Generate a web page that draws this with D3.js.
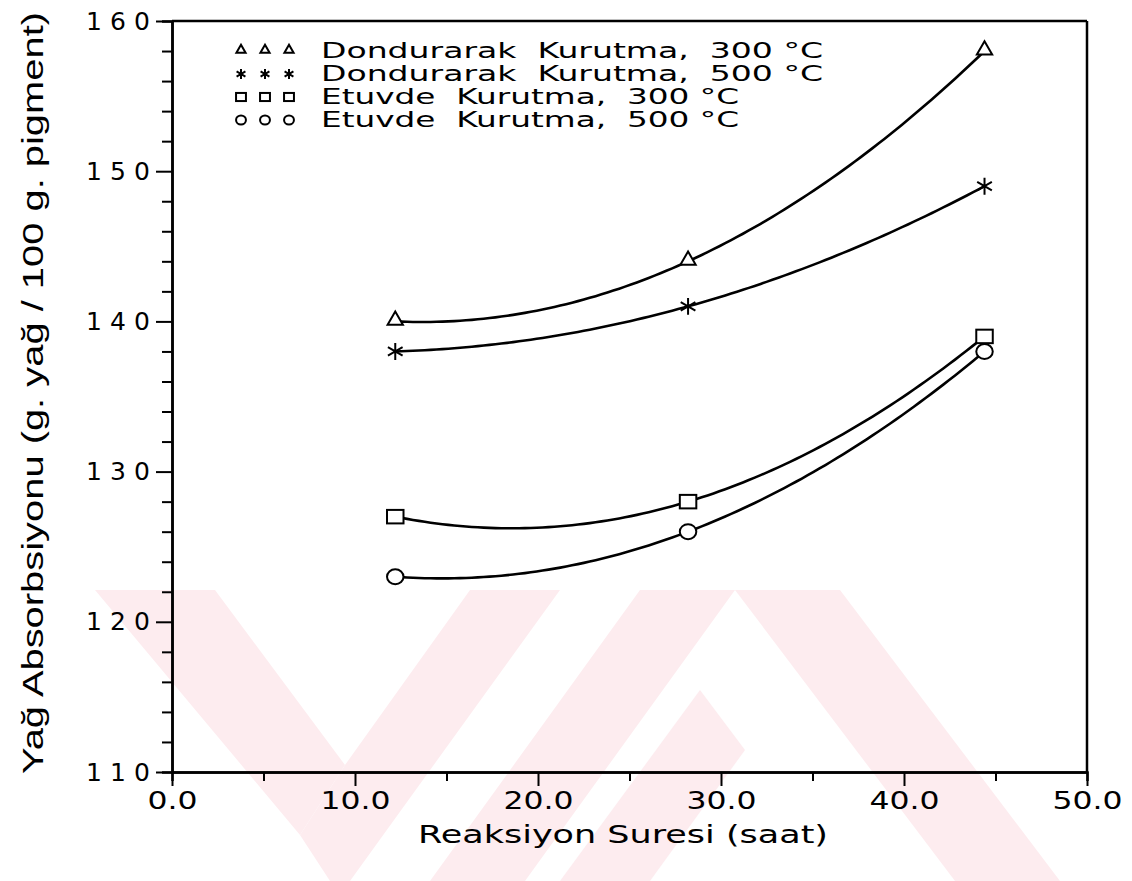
<!DOCTYPE html>
<html>
<head>
<meta charset="utf-8">
<script src="https://cdn.jsdelivr.net/npm/d3@7"></script>
<style>
  body { margin: 0; background: #fff; }
  svg { display: block; }
</style>
</head>
<body>
<div id="chart"></div>
<script>
// reaction time (h) at which each sample was taken
const hours = [12.2, 28.2, 44.4];

// oil absorption, g oil / 100 g pigment
const freezeDry300 = [140, 144, 158];
const freezeDry500 = [138, 141, 149];
const ovenDry300 = [127, 128, 139];
const ovenDry500 = [123, 126, 138];

const seriesNames = [
  "Dondurarak  Kurutma,  300 \u00B0C",
  "Dondurarak  Kurutma,  500 \u00B0C",
  "Etuvde  Kurutma,  300 \u00B0C",
  "Etuvde  Kurutma,  500 \u00B0C"
];
const seriesMarks = ["triangle", "star", "square", "circle"];

const xTicks = [0, 10, 20, 30, 40, 50];
const yTicks = [110, 120, 130, 140, 150, 160];

const width = 1132, height = 881;
const margin = {top: 21, right: 45, bottom: 109, left: 172};

const svg = d3.select("#chart").append("svg")
  .attr("width", width)
  .attr("height", height);

// faint thesis watermark behind everything
const wm = svg.append("g").attr("fill", "#fdecef");
const wmShapes = [
  [[95, 590], [215, 590], [345, 765], [300, 835]],
  [[300, 835], [345, 765], [470, 590], [560, 590], [350, 881], [330, 881]],
  [[430, 881], [640, 590], [735, 590], [525, 881]],
  [[735, 590], [840, 590], [1060, 881], [955, 881]],
  [[560, 881], [700, 690], [745, 750], [650, 881]]
];
wmShapes.forEach(p => wm.append("polygon").attr("points", p.join(" ")));

const x = d3.scaleLinear().domain([0, 50]).range([margin.left, width - margin.right]);
const y = d3.scaleLinear().domain([110, 160]).range([height - margin.bottom, margin.top]);

const tickFont = "'DejaVu Sans', sans-serif";

// box frame
svg.append("line").attr("x1", x(0)).attr("x2", x(50)).attr("y1", y(160)).attr("y2", y(160))
  .attr("stroke", "#000").attr("stroke-width", 2.5);
svg.append("line").attr("x1", x(50)).attr("x2", x(50)).attr("y1", y(160)).attr("y2", y(110))
  .attr("stroke", "#000").attr("stroke-width", 2.5);

// x axis: minor ticks every 5
const xAxisMinor = svg.append("g")
  .attr("transform", `translate(0,${y(110)})`)
  .call(d3.axisBottom(x).tickValues(d3.range(5, 50, 10)).tickSize(9).tickFormat(""));
const xAxis = svg.append("g")
  .attr("transform", `translate(0,${y(110)})`)
  .call(d3.axisBottom(x).tickValues(xTicks).tickSize(14).tickSizeOuter(0).tickFormat(d3.format(".1f")));

// y axis: minor ticks every 2
const yAxisMinor = svg.append("g")
  .attr("transform", `translate(${x(0)},0)`)
  .call(d3.axisLeft(y).tickValues(d3.range(112, 160, 2).filter(v => v % 10 !== 0)).tickSize(10).tickFormat(""));
const yAxis = svg.append("g")
  .attr("transform", `translate(${x(0)},0)`)
  .call(d3.axisLeft(y).tickValues(yTicks).tickSize(16).tickSizeOuter(0).tickPadding(6));

[xAxis, xAxisMinor, yAxis, yAxisMinor].forEach(g => {
  g.select(".domain").attr("stroke-width", 2.5);
  g.selectAll(".tick line").attr("stroke-width", 2);
});
xAxis.selectAll(".tick text")
  .attr("font-family", tickFont).attr("font-size", 25)
  .attr("textLength", d => d < 10 ? 50 : 70).attr("lengthAdjust", "spacingAndGlyphs")
  .attr("dy", "0.8em");
yAxis.selectAll(".tick text")
  .attr("font-family", tickFont).attr("font-size", 25)
  .attr("textLength", 64).attr("lengthAdjust", "spacing");

// axis titles
svg.append("text")
  .attr("x", 623).attr("y", 843)
  .attr("text-anchor", "middle")
  .attr("font-family", tickFont).attr("font-size", 25)
  .attr("textLength", 410).attr("lengthAdjust", "spacingAndGlyphs")
  .text("Reaksiyon Suresi (saat)");

svg.append("text")
  .attr("transform", "translate(43,393) rotate(-90)")
  .attr("text-anchor", "middle")
  .attr("font-family", "'Liberation Sans Narrow', 'Liberation Sans', sans-serif").attr("font-size", 30)
  .attr("textLength", 762).attr("lengthAdjust", "spacingAndGlyphs")
  .text("Ya\u011F Absorbsiyonu (g. ya\u011F / 100 g. pigment)");

// marker shapes
function drawMark(g, kind, cx, cy, size) {
  const sz = size * size;
  if (kind === "star") {
    g.append("path")
      .attr("d", d3.symbol(d3.symbolAsterisk, sz * 0.9)())
      .attr("transform", `translate(${cx},${cy})`)
      .attr("fill", "none").attr("stroke", "#000").attr("stroke-width", 2);
  } else if (kind === "square") {
    g.append("rect")
      .attr("x", cx - size * 0.55).attr("y", cy - size * 0.45)
      .attr("width", size * 1.1).attr("height", size * 0.9)
      .attr("fill", "#fff").attr("stroke", "#000").attr("stroke-width", 2);
  } else if (kind === "circle") {
    g.append("ellipse")
      .attr("cx", cx).attr("cy", cy).attr("rx", size * 0.55).attr("ry", size * 0.5)
      .attr("fill", "#fff").attr("stroke", "#000").attr("stroke-width", 2);
  } else {
    g.append("path")
      .attr("d", d3.symbol(d3.symbolTriangle, sz * 0.45)())
      .attr("transform", `translate(${cx},${cy - 1})`)
      .attr("fill", "#fff").attr("stroke", "#000").attr("stroke-width", 2);
  }
}

// quadratic through the three measured points (how the original curves were drawn)
function quadThrough(xs, ys) {
  return t => ys.reduce((acc, yi, i) => {
    let term = yi;
    xs.forEach((xj, j) => { if (j !== i) term *= (t - xj) / (xs[i] - xj); });
    return acc + term;
  }, 0);
}

const allSeries = [freezeDry300, freezeDry500, ovenDry300, ovenDry500];
const plot = svg.append("g");
const line = d3.line().x(d => x(d[0])).y(d => y(d[1]));

allSeries.forEach((vals, i) => {
  const f = quadThrough(hours, vals);
  const pts = d3.range(0, 101).map(k => {
    const t = hours[0] + (hours[2] - hours[0]) * k / 100;
    return [t, f(t)];
  });
  plot.append("path")
    .attr("d", line(pts))
    .attr("fill", "none").attr("stroke", "#000").attr("stroke-width", 2.6);
  hours.forEach((h, j) => drawMark(plot, seriesMarks[i], x(h), y(vals[j]), 15));
});

// legend
const legend = svg.append("g");
const legendRows = [58, 81, 104, 127];
const legendLen = [502, 502, 418, 418];
seriesNames.forEach((name, i) => {
  [241, 265, 289].forEach(sx => drawMark(legend, seriesMarks[i], sx, legendRows[i] - 7, 9));
  legend.append("text")
    .attr("x", 321).attr("y", legendRows[i])
    .attr("font-family", tickFont).attr("font-size", 21)
    .attr("xml:space", "preserve").style("white-space", "pre")
    .attr("textLength", legendLen[i]).attr("lengthAdjust", "spacingAndGlyphs")
    .text(name);
});
</script>
</body>
</html>
